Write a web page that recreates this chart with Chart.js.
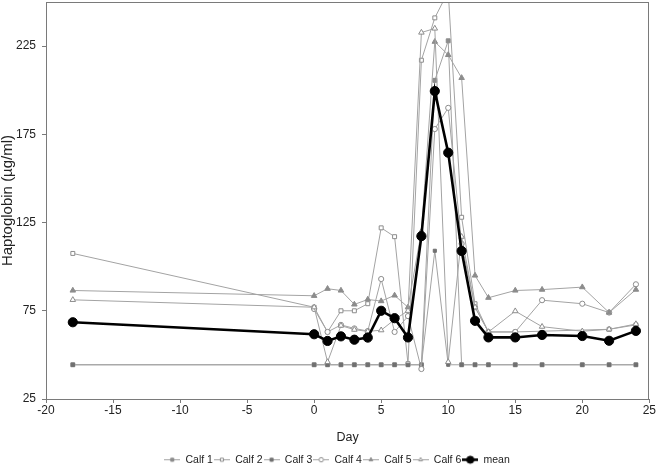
<!DOCTYPE html>
<html><head><meta charset="utf-8">
<script src="https://cdn.jsdelivr.net/npm/chart.js@4.4.0/dist/chart.umd.min.js"></script>
<style>html,body{margin:0;padding:0;background:#fff}#wrap{width:656px;height:467px}</style>
</head><body><div id="wrap"><canvas id="c" width="656" height="467"></canvas></div>
<script>
const days  = [-18, 0, 1, 2, 3, 4, 5, 6, 7, 8, 9, 10, 11, 12, 13, 15, 17, 20, 22, 24];
const calf1 = [44.4,44.4,44.4,44.4,44.4,44.4,44.4,44.4,44.4,44.4,205.6,228,44.4,44.4,44.4,44.4,44.4,44.4,44.4,44.4];
const calf2 = [107.5,77,63,75,75,79,122,117,45,217,241,256,128,79,63,63,null,null,64.5,67];
const calf3 = [44.4,44.4,44.4,44.4,44.4,44.4,44.4,44.4,44.4,44.4,109,44.4,44.4,44.4,44.4,44.4,44.4,44.4,44.4,44.4];
const calf4 = [null,76,63,67,65,63.5,93,63,72,42,178,190,113,77,63,63,81,79,74,90];
const calf5 = [86.5,83.5,87.5,86.5,78.6,81.4,80.5,83.7,77,120,227.5,220,207,95,82.4,86.5,87,88.4,74,87];
const calf6 = [81.2,77,46,66.6,64.3,63.3,64,70,75,232.7,235,46,117,77,63,74.8,66,63.4,64.5,67.5];
const meanV = [68.5,61.7,57.9,60.5,58.6,59.8,75,70.8,59.9,117.3,199.5,164.6,108.9,69.3,59.9,59.9,61.3,60.7,58,63.6];
const seriesNames = ['Calf 1','Calf 2','Calf 3','Calf 4','Calf 5','Calf 6','mean'];
const xTicks = [-20,-15,-10,-5,0,5,10,15,20,25];
const yTicks = [25,75,125,175,225];

const FONT = '"Liberation Sans", Arial, sans-serif';
const LINE = '#a3a3a3', MK = '#8c8c8c';

const styles = [
  {ps:'rect', r:2.8, bg:MK, bd:MK, lc:LINE, lw:1},
  {ps:'rect', r:2.8, bg:'#fff', bd:MK, lc:LINE, lw:1},
  {ps:'rect', r:2.2, bg:'#707070', bd:'#707070', lc:LINE, lw:1},
  {ps:'circle', r:2.6, bg:'#fff', bd:MK, lc:LINE, lw:1},
  {ps:'triangle', r:3.2, bg:MK, bd:MK, lc:LINE, lw:1},
  {ps:'triangle', r:3.2, bg:'#fff', bd:MK, lc:LINE, lw:1},
  {ps:'circle', r:4.6, bg:'#000', bd:'#000', lc:'#000', lw:2.6}
];
const values = [calf1, calf2, calf3, calf4, calf5, calf6, meanV];

function legendImg(s, i) {
  const c = document.createElement('canvas');
  c.width = 16; c.height = 11;
  const ctx = c.getContext('2d');
  ctx.strokeStyle = s.lc; ctx.lineWidth = s.lw;
  ctx.beginPath(); ctx.moveTo(0, 5.5); ctx.lineTo(16, 5.5); ctx.stroke();
  ctx.fillStyle = s.bg; ctx.strokeStyle = s.bd; ctx.lineWidth = 1;
  Chart.helpers.drawPoint(ctx, {pointStyle: s.ps, radius: i === 6 ? 3.6 : 2.2, borderWidth: 1, rotation: 0}, 8, 5.5);
  return c;
}
const legendImgs = styles.map(legendImg);

const datasets = values.map((arr, i) => ({
  label: seriesNames[i],
  data: days.map((d, k) => ({x: d, y: arr[k]})),
  borderColor: styles[i].lc,
  borderWidth: styles[i].lw,
  pointStyle: styles[i].ps,
  pointRadius: styles[i].r,
  pointBackgroundColor: styles[i].bg,
  pointBorderColor: styles[i].bd,
  pointBorderWidth: 1,
  tension: 0,
  spanGaps: true,
  fill: false,
  order: i === 6 ? 0 : 7 - i
}));

const framePlugin = {
  id: 'frame',
  afterLayout(chart) {
    const lg = chart.legend;
    lg.left += 12; lg.right += 12;
    lg.top += 8; lg.bottom += 8;
  },
  afterDraw(chart) {
    const a = chart.chartArea, ctx = chart.ctx;
    ctx.save();
    ctx.strokeStyle = '#7a7a7a'; ctx.lineWidth = 1;
    ctx.strokeRect(Math.round(a.left) + 0.5, Math.round(a.top) + 0.5, Math.round(a.right - a.left) - 1, Math.round(a.bottom - a.top));
    ctx.restore();
  }
};

new Chart(document.getElementById('c'), {
  type: 'line',
  data: {datasets},
  plugins: [framePlugin],
  options: {
    responsive: false,
    animation: false,
    devicePixelRatio: 1,
    layout: {autoPadding: false, padding: {top: 2, right: 6, left: 0, bottom: 0}},
    plugins: {
      tooltip: {enabled: false},
      legend: {
        position: 'bottom',
        align: 'center',
        labels: {
          usePointStyle: true,
          pointStyleWidth: 16,
          padding: 1,
          color: '#222',
          font: {family: FONT, size: 10.5},
          sort: (a, b) => a.datasetIndex - b.datasetIndex,
          generateLabels(chart) {
            const items = Chart.defaults.plugins.legend.labels.generateLabels(chart);
            items.forEach(it => { it.pointStyle = legendImgs[it.datasetIndex]; });
            return items;
          }
        }
      }
    },
    scales: {
      x: {
        type: 'linear',
        min: -20, max: 25,
        afterBuildTicks(s) { s.ticks = xTicks.map(v => ({value: v})); },
        afterFit(s) { s.height = 46.5; s.paddingTop = 0; s.paddingBottom = 0; },
        grid: {display: true, drawOnChartArea: false, drawTicks: true, tickLength: 4, color: '#7a7a7a'},
        border: {display: true, color: '#7a7a7a'},
        ticks: {color: '#222', padding: 0, maxRotation: 0, font: {family: FONT, size: 12}},
        title: {display: true, text: 'Day', color: '#222', padding: {top: 0, bottom: 0}, font: {family: FONT, size: 12.5}}
      },
      y: {
        type: 'linear',
        min: 25, max: 250,
        afterBuildTicks(s) { s.ticks = yTicks.map(v => ({value: v})); },
        afterFit(s) { s.width = 46; s.paddingTop = 0; s.paddingBottom = 0; },
        grid: {display: true, drawOnChartArea: false, drawTicks: true, tickLength: 4, color: '#7a7a7a'},
        border: {display: true, color: '#7a7a7a'},
        ticks: {color: '#222', padding: 6, font: {family: FONT, size: 12}},
        title: {display: true, text: 'Haptoglobin (µg/ml)', color: '#222', padding: {top: -1.5, bottom: 0}, font: {family: FONT, size: 15}}
      }
    }
  }
});
</script>
</body></html>
